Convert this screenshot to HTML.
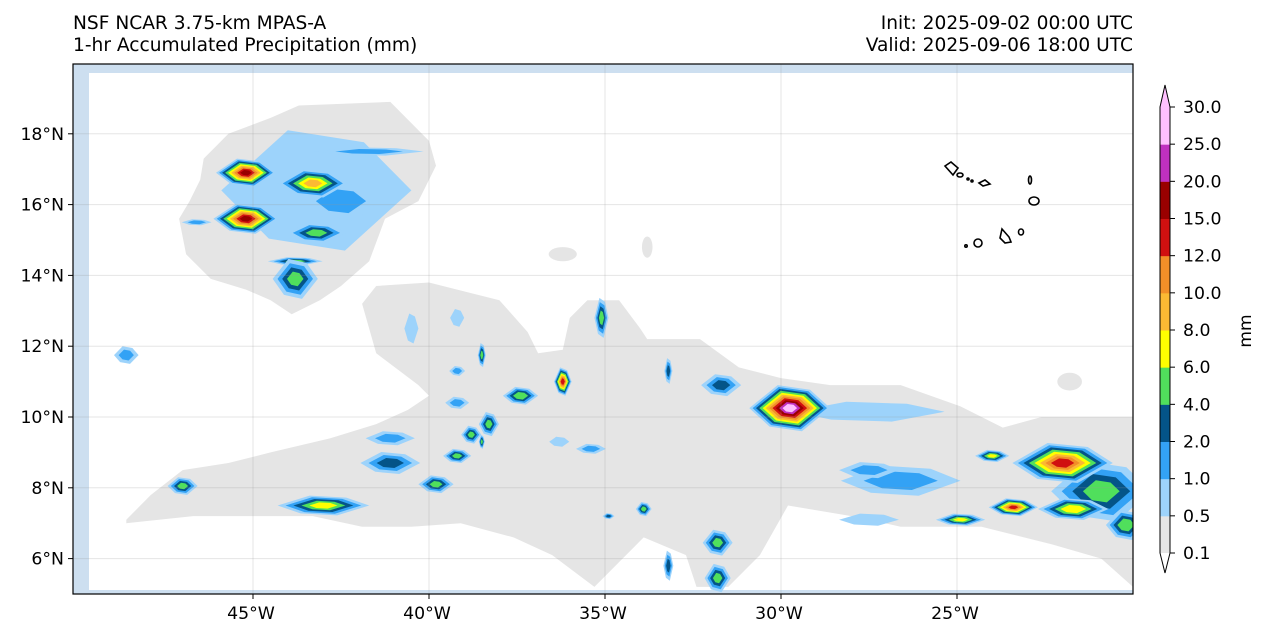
<!DOCTYPE html>
<html><head><meta charset="utf-8"><style>
body{margin:0;background:#fff;}
svg{display:block;font-family:"DejaVu Sans","Liberation Sans",sans-serif;}
</style></head><body>
<svg id="chart" width="1268" height="639" viewBox="0 0 1268 639">
<defs><clipPath id="mapclip"><rect x="73" y="64" width="1060" height="530"/></clipPath></defs>
<text x="73" y="29" font-size="18.6">NSF NCAR 3.75-km MPAS-A</text>
<text x="73" y="51" font-size="18.6">1-hr Accumulated Precipitation (mm)</text>
<text x="1133" y="29" font-size="18.6" text-anchor="end">Init: 2025-09-02 00:00 UTC</text>
<text x="1133" y="51" font-size="18.6" text-anchor="end">Valid: 2025-09-06 18:00 UTC</text>
<g clip-path="url(#mapclip)">
<rect x="73" y="64" width="1060" height="530" fill="#ffffff"/>
<rect x="73" y="64" width="16" height="530" fill="#cddff0"/>
<rect x="73" y="64" width="1060" height="9" fill="#cddff0"/>
<rect x="73" y="590" width="1060" height="4" fill="#cddff0"/>
<g id="fields"></g>
<g id="grid"></g>
<g fill="none" stroke="#000" stroke-width="1.6">
<path d="M945,166 L951,162 L958,168 L953,175 Z"/>
<ellipse cx="960" cy="175" rx="3" ry="2"/>
<circle cx="968" cy="179" r="1"/><circle cx="972" cy="181" r="1"/>
<path d="M979,183 L985,180 L990,184 L983,186 Z"/>
<ellipse cx="1030" cy="180" rx="1.5" ry="4"/>
<ellipse cx="1034" cy="201" rx="5" ry="4"/>
<circle cx="966" cy="246" r="1.2"/>
<ellipse cx="978" cy="243" rx="4" ry="4"/>
<path d="M1002,229 L1009,237 L1011,242 L1005,243 L1000,238 Z"/>
<ellipse cx="1021" cy="232" rx="2.5" ry="3"/>
</g>
</g>
<rect x="73" y="64" width="1060" height="530" fill="none" stroke="#000" stroke-width="1.2"/>
<g id="ticks"></g>
<g id="cbar"></g>
<text transform="translate(1251,331) rotate(-90)" font-size="17" text-anchor="middle">mm</text>
</svg>
<script>
// ---- data ----
const levels = [0.1,0.5,1,2,4,6,8,10,12,15,20,25,30];
const levelColors = ["#e5e5e5","#9dd3fb","#33a2f5","#045488","#50df5c","#ffff00","#fbb933","#f28f28","#d01010","#990000","#c030c0","#ffc0ff"];
const lonTicks = [-45,-40,-35,-30,-25];
const latTicks = [6,8,10,12,14,16,18];
const grayNW = [[-46.4,17.3],[-45.7,18.0],[-44.5,18.45],[-43.7,18.8],[-41.1,18.9],[-40.0,17.8],[-39.8,17.1],[-40.3,16.1],[-41.25,15.6],[-41.7,14.4],[-42.5,13.7],[-43.1,13.3],[-43.9,12.9],[-44.5,13.3],[-45.2,13.6],[-46.2,13.9],[-46.9,14.6],[-47.1,15.6],[-46.8,16.1],[-46.5,16.7]];
const grayMain = [[-48.6,7.1],[-47.9,7.8],[-47.0,8.5],[-45.7,8.7],[-44.5,9.0],[-42.8,9.4],[-41.5,9.8],[-40.6,10.2],[-40.0,10.6],[-40.3,10.9],[-41.5,11.8],[-41.9,13.2],[-41.5,13.7],[-40.0,13.8],[-39.2,13.6],[-38.0,13.3],[-37.2,12.4],[-36.9,11.8],[-36.2,11.9],[-36.0,12.8],[-35.5,13.3],[-34.6,13.3],[-34.0,12.5],[-33.8,12.2],[-32.3,12.2],[-31.2,11.4],[-30.0,11.1],[-28.6,10.9],[-26.6,10.9],[-24.9,10.3],[-23.7,9.7],[-22.6,10.0],[-20.0,10.0],[-20.0,5.2],[-20.9,6.0],[-22.3,6.4],[-24.3,6.9],[-26.6,6.9],[-28.0,7.2],[-29.8,7.5],[-30.6,6.1],[-31.5,5.2],[-32.4,5.2],[-32.7,6.1],[-33.9,6.6],[-35.3,5.2],[-36.5,6.1],[-37.6,6.6],[-39.1,7.0],[-40.5,6.9],[-41.9,6.9],[-43.3,7.2],[-45.0,7.2],[-46.7,7.2],[-48.6,7.0]];
const graySmall = [[-36.2,14.6,0.4,0.2],[-33.8,14.8,0.15,0.3],[-21.8,11.0,0.35,0.25]];
const cellLon = [-43.2,-41.7,-42.5,-45.2,-43.3,-45.2,-46.6,-43.2,-43.8,-43.8,-48.6,-40.5,-39.2,-38.5,-39.2,-39.2,-37.4,-36.2,-35.1,-38.3,-38.8,-38.5,-39.2,-39.8,-41.1,-41.1,-47.0,-43.0,-27.5,-29.75,-31.7,-33.2,-35.4,-36.3,-33.9,-34.9,-31.8,-31.8,-33.2,-26.6,-27.5,-27.5,-24.0,-20.9,-22.0,-23.4,-21.7,-24.9,-20.2];
const cellLat = [16.4,17.5,16.1,16.9,16.6,15.6,15.5,15.2,14.4,13.9,11.75,12.5,12.8,11.75,11.3,10.4,10.6,11.0,12.8,9.8,9.5,9.3,8.9,8.1,9.4,8.7,8.05,7.5,10.15,10.25,10.9,11.3,9.1,9.3,7.4,7.2,6.45,5.45,5.8,8.2,8.5,7.1,8.9,7.9,8.7,7.45,7.4,7.1,6.95];
const cellW = [5.4,3.1,2.3,1.7,2.0,1.85,0.85,1.7,1.56,1.28,0.7,0.4,0.4,0.23,0.45,0.68,1.0,0.5,0.4,0.57,0.57,0.17,0.8,1.0,1.4,1.7,0.85,2.6,4.3,2.3,1.14,0.23,0.85,0.57,0.45,0.34,0.85,0.74,0.28,3.4,1.7,1.7,0.97,2.85,2.85,1.4,2.0,1.4,1.14];
const cellH = [3.4,0.23,1.1,0.8,0.8,0.85,0.17,0.56,0.23,1.13,0.5,0.85,0.5,0.68,0.28,0.34,0.5,0.8,1.13,0.68,0.5,0.4,0.4,0.5,0.4,0.62,0.5,0.56,0.56,1.3,0.62,0.73,0.28,0.28,0.4,0.17,0.73,0.8,0.85,0.85,0.45,0.34,0.34,1.7,1.13,0.5,0.62,0.34,0.85];
const cellPeak = [0.8,1.5,1.5,17,9,17,1.5,5,5,5,1.5,0.8,0.8,5,1.5,1.5,6,14,5,5,5,5,5,5,1.5,3,5,7,0.8,28,3,3,1.5,0.8,5,3,5,5,3,1.5,1.5,0.8,7,5,14,13,8,7,6];
// ---- axes ----
const X0=73,X1=1133,Y0=64,Y1=594;
function xs(lon){return 781+(lon+30)*35.2;}
function ys(lat){return 417-(lat-10)*35.4;}
const NS="http://www.w3.org/2000/svg";
function mk(tag,attrs,parent){const e=document.createElementNS(NS,tag);for(const k in attrs)e.setAttribute(k,attrs[k]);parent.appendChild(e);return e;}
const fields=document.getElementById('fields');
function poly(pts,fill,name){const p=mk('polygon',{points:pts.map(q=>xs(q[0]).toFixed(1)+','+ys(q[1]).toFixed(1)).join(' '),fill:fill},fields);

}
poly(grayNW,levelColors[0],'gray-region-nw');
poly(grayMain,levelColors[0],'gray-region-main');
graySmall.forEach(function(g){const e=mk('ellipse',{cx:xs(g[0]),cy:ys(g[1]),rx:g[2]*35.2,ry:g[3]*35.4,fill:levelColors[0]},fields);

});
function fidx(v){for(let i=0;i<levels.length-1;i++){if(v<levels[i+1])return i+(v-levels[i])/(levels[i+1]-levels[i]);}return levels.length-1;}
const order=cellLon.map((_,i)=>i).sort((a,b)=>cellPeak[a]-cellPeak[b]);
order.forEach(function(c){
  const fp=fidx(cellPeak[c]);const px=xs(cellLon[c]),py=ys(cellLat[c]);
  const g=mk('g',{},fields);
  
  
  for(let i=1;i<levels.length-1;i++){
    if(levels[i]>=cellPeak[c])break;
    const s=1-(i-1)/fp*0.95;
    const rx=cellW[c]/2*35.2*s, ry=cellH[c]/2*35.4*s;
    const pts=[[-rx,0],[-0.3*rx,-ry],[0.5*rx,-0.8*ry],[rx,0],[0.3*rx,ry],[-0.5*rx,0.8*ry]];
    const p=mk('polygon',{points:pts.map(q=>(px+q[0]).toFixed(1)+','+(py+q[1]).toFixed(1)).join(' '),fill:levelColors[i]},g);
    
    
  }
});
const grid=document.getElementById('grid'),ticks=document.getElementById('ticks');
lonTicks.forEach(function(l){const x=xs(l);
  const gl=mk('line',{x1:x,x2:x,y1:Y0,y2:Y1,stroke:'#999',"stroke-opacity":0.25,"stroke-width":1},grid);
  
  
  mk('line',{x1:x,x2:x,y1:Y1,y2:Y1+5,stroke:'#000'},ticks);
  const t=mk('text',{x:x-2,y:Y1+25,"font-size":17.3,"text-anchor":"middle"},ticks);t.textContent=Math.abs(l)+'°W';
  
  });
latTicks.forEach(function(l){const y=ys(l);
  const gl=mk('line',{x1:X0,x2:X1,y1:y,y2:y,stroke:'#999',"stroke-opacity":0.25,"stroke-width":1},grid);
  
  
  mk('line',{x1:X0-5,x2:X0,y1:y,y2:y,stroke:'#000'},ticks);
  const t=mk('text',{x:X0-9,y:y+6,"font-size":17.3,"text-anchor":"end"},ticks);t.textContent=l+'°N';
  
  });
// colorbar
const cb=document.getElementById('cbar');const cbx=1160,cbw=10,cbTop=107,cbBot=553;const step=(cbBot-cbTop)/(levels.length-1);
function cby(i){return cbBot-i*step;}
for(let i=0;i<levelColors.length;i++){const r=mk('rect',{x:cbx,y:cby(i+1),width:cbw,height:step+0.5,fill:levelColors[i]},cb);
  
  }
const lo=mk('polygon',{points:cbx+','+cbBot+' '+(cbx+cbw)+','+cbBot+' '+(cbx+cbw/2)+','+(cbBot+20),fill:'#fff'},cb);


const hi=mk('polygon',{points:cbx+','+cbTop+' '+(cbx+cbw)+','+cbTop+' '+(cbx+cbw/2)+','+(cbTop-22),fill:'#ffc0ff'},cb);


mk('polygon',{points:cbx+','+cbTop+' '+(cbx+cbw/2)+','+(cbTop-22)+' '+(cbx+cbw)+','+cbTop+' '+(cbx+cbw)+','+cbBot+' '+(cbx+cbw/2)+','+(cbBot+20)+' '+cbx+','+cbBot,fill:'none',stroke:'#000','stroke-width':1},cb);
levels.forEach(function(v,i){const y=cby(i);mk('line',{x1:cbx+cbw,x2:cbx+cbw+5,y1:y,y2:y,stroke:'#000'},cb);
  const t=mk('text',{x:cbx+cbw+13,y:y+6,"font-size":17.3},cb);t.textContent=v.toFixed(1);
  
  });
</script>
</body></html>
